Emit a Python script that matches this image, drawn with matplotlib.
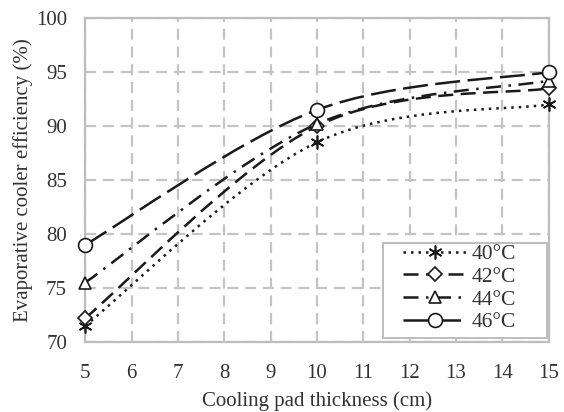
import numpy as np
import matplotlib
matplotlib.use("Agg")
import matplotlib.pyplot as plt
from matplotlib.path import Path
from matplotlib.patches import PathPatch, Rectangle
from matplotlib.lines import Line2D

plt.rcParams['font.family'] = ['Liberation Serif', 'DejaVu Serif']

# === data ===
thickness = [5, 10, 15]
eff_40 = [71.5, 88.5, 92.0]
eff_42 = [72.2, 90.0, 93.5]
eff_44 = [75.5, 90.2, 94.2]
eff_46 = [79.0, 91.5, 95.0]
labels = ["40°C", "42°C", "44°C", "46°C"]

series = [eff_40, eff_42, eff_44, eff_46]
styles = [(0, (1, 2)), (0, (6, 3)), (0, (6, 3, 1, 3)), (0, (10, 3))]
markers = [(6, 2, 0), "D", "^", "o"]
msizes = [10, 7, 9, 10]
ink = "#1a1a1a"
txt = "#333333"


def smooth_path(xs, ys):
    # excel-like smoothed line: cubic bezier through the points
    pts = np.column_stack([xs, ys]).astype(float)
    verts = [pts[0]]
    codes = [Path.MOVETO]
    n = len(pts)
    for i in range(n - 1):
        p0 = pts[i - 1] if i > 0 else pts[i]
        p1 = pts[i]
        p2 = pts[i + 1]
        p3 = pts[i + 2] if i + 2 < n else pts[i + 1]
        c1 = p1 + (p2 - p0) / 6.0
        c2 = p2 - (p3 - p1) / 6.0
        verts += [c1, c2, p2]
        codes += [Path.CURVE4] * 3
    return Path(verts, codes)


fig = plt.figure(figsize=(5.64, 4.12), dpi=100)
ax = fig.add_axes([0.151, 0.170, 0.822, 0.786])

handles = []
for ys, ls, mk, ms, lab in zip(series, styles, markers, msizes, labels):
    patch = PathPatch(smooth_path(thickness, ys), facecolor="none",
                      edgecolor=ink, lw=1.8, linestyle=ls, zorder=3)
    ax.add_patch(patch)
    ax.plot(thickness, ys, linestyle="none", marker=mk, ms=ms,
            mfc="white", mec=ink, mew=1.2, zorder=4, clip_on=False)
    handles.append(Line2D([], [], color=ink, lw=1.8, linestyle=ls, marker=mk,
                          ms=ms, mfc="white", mec=ink, mew=1.2, label=lab))

ax.set_xlim(5, 15)
ax.set_ylim(70, 100)
ax.set_xticks(range(5, 16))
ax.set_yticks(range(70, 101, 5))
ax.grid(True, color="#c4c4c4", lw=1.6, linestyle=(0, (5, 3)))
ax.set_axisbelow(True)
for s in ax.spines.values():
    s.set_color("#bdbdbd")
    s.set_linewidth(1.6)
ax.tick_params(length=0, labelsize=15, colors=txt)
ax.tick_params(axis="x", pad=16)
ax.tick_params(axis="y", pad=13)
ax.set_xlabel("Cooling pad thickness (cm)", fontsize=15, color=txt, labelpad=6)
ax.set_ylabel("Evaporative cooler efficiency (%)", fontsize=15, color=txt, labelpad=2)

# legend box drawn separately (wider than the content, like the original)
box = Rectangle((0.642, 0.012), 0.354, 0.294, transform=ax.transAxes,
                facecolor="white", edgecolor="#bdbdbd", lw=1.4, zorder=5)
ax.add_patch(box)

leg = ax.legend(handles=handles, loc="lower left", fontsize=15.5, numpoints=1,
                handlelength=3.0, handletextpad=0.2, labelspacing=0.12,
                frameon=False, borderpad=0.3, borderaxespad=0,
                bbox_to_anchor=(0.672, 0.01))
leg.set_zorder(6)
for t in leg.get_texts():
    t.set_color(txt)

fig.savefig("out.png", dpi=100)
